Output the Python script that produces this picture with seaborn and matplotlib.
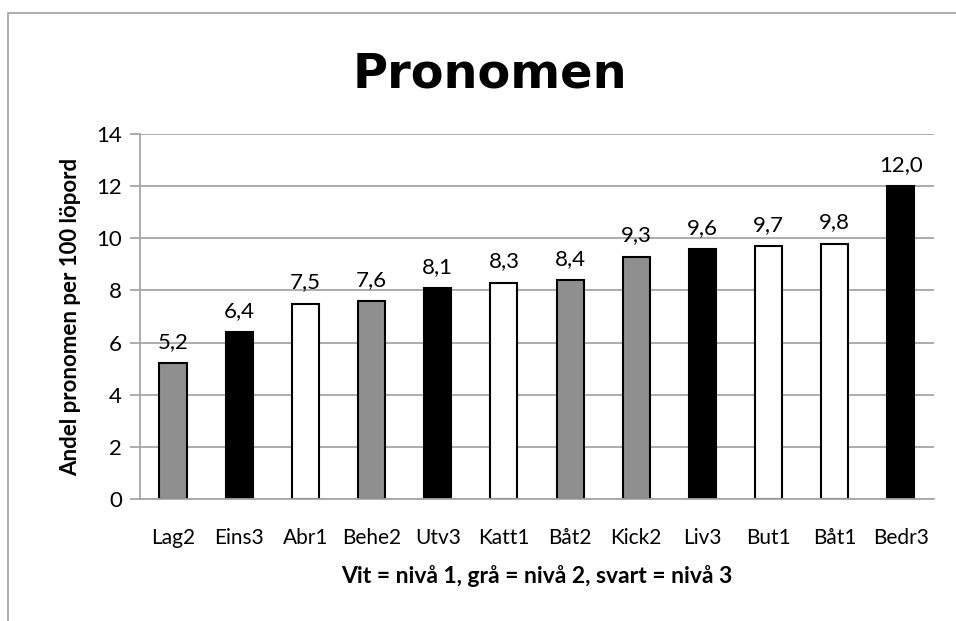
import matplotlib
matplotlib.use("Agg")
import matplotlib.pyplot as plt
import seaborn as sns
import pandas as pd
from matplotlib.patches import Rectangle

# data
texts = ["Lag2", "Eins3", "Abr1", "Behe2", "Utv3", "Katt1",
         "Båt2", "Kick2", "Liv3", "But1", "Båt1", "Bedr3"]
values = [5.2, 6.4, 7.5, 7.6, 8.1, 8.3, 8.4, 9.3, 9.6, 9.7, 9.8, 12.0]
levels = [2, 3, 1, 2, 3, 1, 2, 2, 3, 1, 1, 3]

level_colors = {1: "#ffffff", 2: "#8f8f8f", 3: "#000000"}
grid_color = "#a6a6a6"
font = "Lato"

df = pd.DataFrame({"text": texts, "value": values, "level": levels})

sns.set_theme(style="white")
plt.rcParams["font.family"] = [font, "DejaVu Sans"]
plt.rcParams["text.color"] = "black"
plt.rcParams["axes.labelcolor"] = "black"
plt.rcParams["xtick.color"] = "black"
plt.rcParams["ytick.color"] = "black"

fig = plt.figure(figsize=(9.56, 6.21), dpi=100)
ax = fig.add_axes([0.1464, 0.1965, 0.977 - 0.1464, 0.784 - 0.1965])

sns.barplot(
    data=df, x="text", y="value", hue="text",
    palette=[level_colors[l] for l in levels],
    edgecolor="black", linewidth=1.5, width=0.41,
    legend=False, ax=ax,
)

# value labels with comma decimals
for cont, v in zip(ax.containers, values):
    ax.bar_label(cont, labels=[f"{v:.1f}".replace(".", ",")],
                 padding=8, fontsize=16, color="black")

ax.set_ylim(0, 14)
ax.set_yticks(range(0, 15, 2))
ax.set_xlim(-0.5, len(texts) - 0.5)
ax.yaxis.grid(True, color=grid_color, linewidth=1.3)
ax.set_axisbelow(True)
for side in ["top", "right"]:
    ax.spines[side].set_visible(False)
for side in ["left", "bottom"]:
    ax.spines[side].set_color(grid_color)
    ax.spines[side].set_linewidth(1.3)

ax.tick_params(axis="y", length=7, width=1.3, color=grid_color,
               labelcolor="black", labelsize=16, pad=6, left=True)
ax.tick_params(axis="x", length=0, labelsize=15, labelcolor="black", pad=21)

ax.set_xlabel("Vit = nivå 1, grå = nivå 2, svart = nivå 3",
              fontsize=16.5, fontweight="bold", labelpad=12)
ax.set_ylabel("Andel pronomen per 100 löpord",
              fontsize=16, fontweight="bold", labelpad=11)

fig.text(490 / 956, 1 - 87 / 621, "Pronomen", ha="center", va="baseline",
         fontsize=34.5, fontweight="bold", family="DejaVu Sans", color="black")

# outer chart frame (cut off at the bottom and right in the original)
fig.patches.append(Rectangle((8 / 956, -0.05), 1.0, 1.05 - 12.5 / 621,
                             transform=fig.transFigure, fill=False,
                             edgecolor="#a0a0a0", linewidth=1.2))

fig.savefig("out.png", dpi=100)
